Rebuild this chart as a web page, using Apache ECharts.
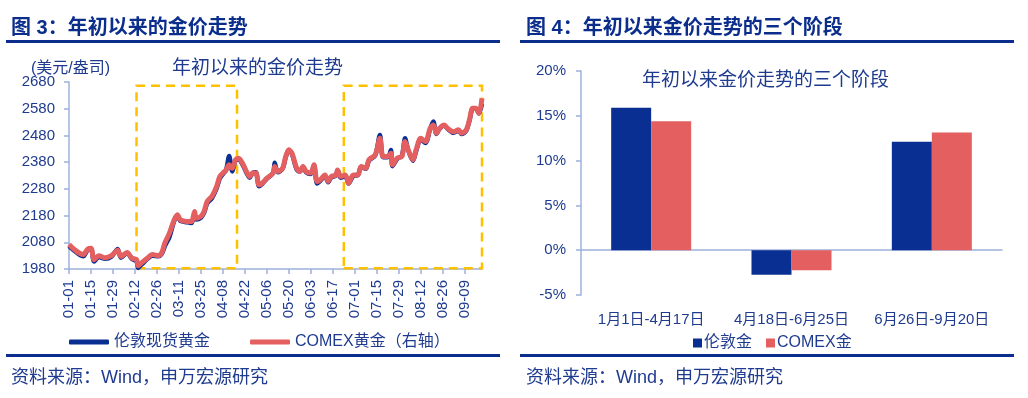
<!DOCTYPE html>
<html>
<head>
<meta charset="utf-8">
<script src="https://cdn.jsdelivr.net/npm/echarts@6/dist/echarts.min.js"></script>
<style>
  html, body, #main { width: 1028px; height: 398px; margin: 0; background: #fff; }
</style>
</head>
<body>
<div id="main"></div>
<script>
// ---- left chart: gold price since start of year (2024) ----
const monthDays = [31, 29, 31, 30, 31, 30, 31, 31, 20]  // Jan .. Sep 20
const dayLabels = []
monthDays.forEach((n, m) => {
  for (let d = 1; d <= n; d++) {
    dayLabels.push(String(m + 1).padStart(2, '0') + '-' + String(d).padStart(2, '0'))
  }
})

const sampleDates = [
  '01-01','01-05','01-08','01-10','01-13','01-15','01-17','01-20','01-24','01-28',
  '02-01','02-03','02-07','02-10','02-13','02-14','02-16','02-20','02-23','02-27',
  '02-29','03-02','03-05','03-08','03-10','03-12','03-16','03-19','03-21','03-22',
  '03-25','03-27','03-29','04-01','04-04','04-06','04-08','04-10','04-12','04-14',
  '04-16','04-18','04-21','04-23','04-25','04-27','04-29','05-01','05-03','05-06',
  '05-10','05-11','05-13','05-16','05-18','05-20','05-22','05-25','05-27','05-29',
  '05-31','06-03','06-05','06-07','06-09','06-12','06-14','06-16','06-19','06-20',
  '06-22','06-25','06-27','06-30','07-03','07-05','07-08','07-10','07-14','07-17',
  '07-19','07-22','07-24','07-25','07-28','07-31','08-02','08-04','08-07','08-09',
  '08-12','08-15','08-18','08-20','08-22','08-24','08-27','08-29','09-02','09-05',
  '09-07','09-10','09-12','09-14','09-16','09-18','09-20'
]
const londonSpot = [
  2066,2045,2032,2028,2052,2055,2008,2025,2018,2026,
  2055,2022,2040,2018,2008,1984,1995,2018,2030,2028,
  2036,2065,2100,2160,2178,2160,2155,2152,2185,2165,
  2172,2190,2225,2245,2282,2318,2335,2350,2403,2345,
  2385,2390,2365,2340,2322,2340,2342,2290,2298,2318,
  2340,2378,2342,2355,2398,2425,2410,2352,2345,2362,
  2342,2336,2368,2300,2310,2328,2305,2322,2330,2350,
  2322,2328,2300,2328,2332,2362,2355,2385,2405,2482,
  2398,2398,2425,2365,2392,2405,2469,2425,2385,2420,
  2465,2452,2505,2532,2485,2505,2518,2505,2490,2498,
  2485,2498,2535,2580,2582,2562,2598
]
const comexGold = [
  2072,2050,2038,2034,2055,2058,2015,2030,2022,2030,
  2050,2027,2042,2021,2015,1992,2002,2021,2034,2030,
  2040,2077,2115,2164,2183,2164,2158,2158,2195,2170,
  2177,2195,2233,2252,2289,2326,2339,2351,2370,2357,
  2389,2395,2370,2345,2326,2339,2339,2295,2301,2320,
  2339,2364,2345,2357,2401,2426,2413,2357,2345,2364,
  2345,2339,2370,2308,2314,2332,2308,2326,2332,2351,
  2326,2332,2301,2332,2332,2364,2357,2389,2407,2469,
  2401,2401,2413,2370,2395,2401,2457,2426,2389,2426,
  2469,2457,2507,2519,2488,2507,2519,2507,2494,2501,
  2488,2501,2538,2582,2582,2563,2619
]
const priceTicks = { min: 1980, max: 2680, step: 100 }
const boxRanges = [['02-13', '04-17'], ['06-24', '09-20']]
const boxValueRange = [1983, 2666]

// ---- right chart: three stages ----
const stages = ['1月1日-4月17日', '4月18日-6月25日', '6月26日-9月20日']
const londonStage = [15.9, -2.75, 12.1]
const comexStage = [14.4, -2.25, 13.15]

const NAVY = '#0B2D8C'
const TXT = '#1F3B8F'
const AXIS = '#9FB1DA'
const BLUE = '#0A2F93'
const RED = '#E35F60'
const FONT = 'Arial, "Liberation Sans", "Noto Sans CJK SC", sans-serif'

const chart = echarts.init(document.getElementById('main'), null, { renderer: 'canvas' })

const pair = (dates, vals) => dates.map((d, i) => [d, vals[i]])

const option = {
  animation: false,
  textStyle: { fontFamily: FONT, color: TXT },
  title: [
    { text: '图 3：年初以来的金价走势', left: 6, top: 13,
      textStyle: { fontSize: 20, fontWeight: 'bold', color: NAVY, fontFamily: FONT } },
    { text: '图 4：年初以来金价走势的三个阶段', left: 521, top: 13,
      textStyle: { fontSize: 20, fontWeight: 'bold', color: NAVY, fontFamily: FONT } },
    { text: '年初以来的金价走势', left: 167, top: 54,
      textStyle: { fontSize: 19, fontWeight: 'normal', color: TXT, fontFamily: FONT } },
    { text: '(美元/盎司)', left: 26, top: 56,
      textStyle: { fontSize: 16, fontWeight: 'normal', color: TXT, fontFamily: FONT } },
    { text: '年初以来金价走势的三个阶段', left: 637, top: 66,
      textStyle: { fontSize: 19, fontWeight: 'normal', color: TXT, fontFamily: FONT } },
    { text: '资料来源：Wind，申万宏源研究', left: 6, top: 364,
      textStyle: { fontSize: 18, fontWeight: 'normal', color: TXT, fontFamily: FONT } },
    { text: '资料来源：Wind，申万宏源研究', left: 521, top: 364,
      textStyle: { fontSize: 18, fontWeight: 'normal', color: TXT, fontFamily: FONT } }
  ],
  graphic: [
    { type: 'rect', shape: { x: 6, y: 40, width: 494, height: 3 }, style: { fill: NAVY } },
    { type: 'rect', shape: { x: 520, y: 40, width: 494, height: 3 }, style: { fill: NAVY } },
    { type: 'rect', shape: { x: 6, y: 354, width: 494, height: 3 }, style: { fill: NAVY } },
    { type: 'rect', shape: { x: 520, y: 354, width: 494, height: 3 }, style: { fill: NAVY } }
  ],
  legend: [
    { left: 64, top: 329, itemWidth: 40, itemHeight: 5, itemGap: 40, icon: 'roundRect',
      textStyle: { fontSize: 16, color: TXT, fontFamily: FONT },
      data: ['伦敦现货黄金', 'COMEX黄金（右轴）'] },
    { left: 688, top: 330, itemWidth: 9, itemHeight: 9, itemGap: 14, icon: 'rect',
      textStyle: { fontSize: 16, color: TXT, fontFamily: FONT, padding: [0, 0, 0, -3] },
      data: ['伦敦金', 'COMEX金'] }
  ],
  grid: [
    { left: 69, top: 82, width: 413, height: 187 },
    { left: 581, top: 71, width: 421, height: 224 }
  ],
  xAxis: [
    { type: 'category', gridIndex: 0, data: dayLabels, boundaryGap: false,
      axisLine: { lineStyle: { color: AXIS, width: 1.5 } },
      axisTick: { interval: 13, length: 5, lineStyle: { color: AXIS, width: 1.5 } },
      axisLabel: { interval: 13, rotate: 90, margin: 11, fontSize: 15, color: TXT, fontFamily: FONT } },
    { type: 'category', gridIndex: 1, data: stages,
      axisLine: { onZero: true, lineStyle: { color: AXIS, width: 1.5 } },
      axisTick: { length: 4, lineStyle: { color: AXIS, width: 1.5 } },
      axisLabel: { interval: 0, margin: 17, fontSize: 15, color: TXT, fontFamily: FONT } }
  ],
  yAxis: [
    { type: 'value', gridIndex: 0, min: priceTicks.min, max: priceTicks.max, interval: priceTicks.step,
      splitLine: { show: false },
      axisLine: { show: true, lineStyle: { color: AXIS, width: 1.5 } },
      axisTick: { show: true, length: 5, lineStyle: { color: AXIS, width: 1.5 } },
      axisLabel: { margin: 14, fontSize: 15, color: TXT, fontFamily: FONT, formatter: v => String(v) } },
    { type: 'value', gridIndex: 1, min: -5, max: 20, interval: 5,
      splitLine: { show: false },
      axisLine: { show: true, lineStyle: { color: AXIS, width: 1.5 } },
      axisTick: { show: true, length: 5, lineStyle: { color: AXIS, width: 1.5 } },
      axisLabel: { margin: 15, fontSize: 15, color: TXT, fontFamily: FONT, formatter: '{value}%' } }
  ],
  series: [
    { name: '伦敦现货黄金', type: 'line', xAxisIndex: 0, yAxisIndex: 0,
      data: pair(sampleDates, londonSpot), symbol: 'none', smooth: 0.3,
      lineStyle: { color: BLUE, width: 4.5 }, itemStyle: { color: BLUE } },
    { name: 'COMEX黄金（右轴）', type: 'line', xAxisIndex: 0, yAxisIndex: 0,
      data: pair(sampleDates, comexGold), symbol: 'none', smooth: 0.3,
      lineStyle: { color: RED, width: 5 }, itemStyle: { color: RED },
      markArea: {
        silent: true,
        itemStyle: { color: 'rgba(0,0,0,0)', borderColor: '#FFC000', borderWidth: 2.5, borderType: [9, 6] },
        data: boxRanges.map(r => [
          { xAxis: r[0], yAxis: boxValueRange[0] },
          { xAxis: r[1], yAxis: boxValueRange[1] }
        ])
      } },
    { name: '伦敦金', type: 'bar', xAxisIndex: 1, yAxisIndex: 1, data: londonStage,
      barWidth: 40, barGap: '0%', itemStyle: { color: BLUE } },
    { name: 'COMEX金', type: 'bar', xAxisIndex: 1, yAxisIndex: 1, data: comexStage,
      barWidth: 40, barGap: '0%', itemStyle: { color: RED } }
  ]
}

chart.setOption(option)
</script>
</body>
</html>
